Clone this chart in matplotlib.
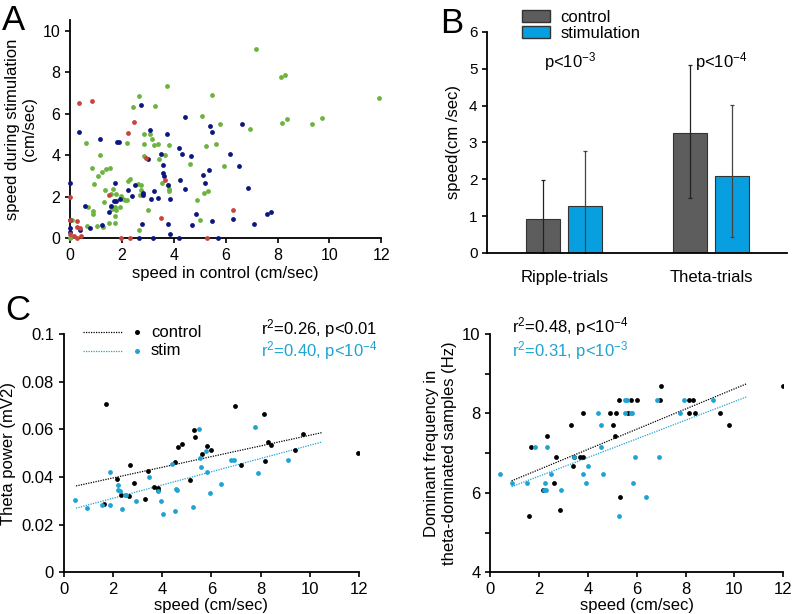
import numpy as np
import matplotlib
matplotlib.use("Agg")
from matplotlib import pyplot as plt
from matplotlib.patches import Patch

plt.rcParams['font.family'] = ['Liberation Sans', 'DejaVu Sans']
plt.rcParams['mathtext.fontset'] = 'custom'
plt.rcParams['mathtext.rm'] = 'Liberation Sans'
plt.rcParams['mathtext.it'] = 'Liberation Sans:italic'
plt.rcParams['axes.linewidth'] = 1.3

# ---- panel A : speed control vs stimulation, three groups of points
a_navy_x = [0.36, 1.15, 1.81, 1.88, 3.08, 3.72, 5.46, 5.38, 4.43, 2.74, 6.64, 3.49, 4.21, 4.30, 4.65,
            3.01, 3.59, 3.60, 3.63, 4.23, 5.35, 5.12, 5.22, 0.0, 1.75, 2.50, 2.82, 2.80, 3.23, 2.24,
            3.76, 4.43, 2.37, 1.70, 1.79, 1.94, 3.11, 3.38, 3.87, 1.49, 1.56, 0.59, 4.84, 0.0, 0.0,
            0.0, 0.37, 0.77, 1.24, 2.78, 3.76, 3.84, 4.70, 5.48, 2.64, 3.18, 4.20, 5.71, 6.18, 6.53,
            6.87, 6.29, 7.58, 7.76, 7.10]
a_navy_y = [5.11, 4.76, 4.65, 4.65, 5.22, 5.00, 5.11, 5.39, 5.82, 6.41, 5.48, 4.07, 4.36, 4.07, 3.96,
            3.83, 3.54, 3.14, 2.98, 2.79, 3.27, 3.03, 2.68, 2.68, 2.68, 2.58, 2.20, 2.10, 2.28, 2.31,
            2.58, 2.37, 2.02, 1.79, 1.79, 1.90, 1.90, 1.95, 1.90, 1.27, 1.55, 1.54, 1.15, 0.87, 0.51,
            0.30, 0.42, 0.51, 0.63, 0.67, 0.67, 0.22, 0.63, 0.82, 0.0, 0.0, 0.0, 0.0, 4.05, 3.49,
            2.44, 0.91, 1.15, 1.26, 0.67]
a_green_x = [7.16, 8.12, 8.29, 11.92, 8.38, 8.16, 9.34, 9.70, 6.94, 2.65, 2.43, 3.28, 3.73, 5.10, 5.48,
             5.79, 2.84, 3.07, 3.17, 3.24, 3.40, 2.84, 2.21, 0.62, 3.81, 1.15, 2.87, 3.42, 3.67, 4.63,
             5.26, 5.61, 5.95, 0.86, 1.24, 1.40, 1.53, 1.08, 0.91, 1.36, 1.56, 1.65, 1.30, 2.24, 2.33,
             2.63, 2.75, 2.73, 2.68, 1.79, 1.98, 2.11, 2.20, 2.05, 1.56, 1.72, 1.62, 1.79, 1.92, 1.75,
             0.69, 0.89, 0.89, 1.51, 1.72, 1.03, 0.67, 1.26, 3.02, 3.55, 3.78, 3.81, 3.81, 4.90, 5.16,
             5.32, 5.02, 2.64, 0.08, 0.0, 0.05]
a_green_y = [9.10, 7.75, 7.88, 6.76, 5.75, 5.54, 5.51, 5.80, 5.24, 6.87, 6.30, 6.36, 7.32, 5.90, 6.90,
             5.50, 5.03, 5.00, 4.76, 4.47, 4.55, 4.55, 4.60, 4.58, 4.50, 4.02, 3.94, 3.80, 3.99, 3.56,
             4.42, 4.55, 3.46, 3.38, 3.19, 3.32, 3.38, 2.98, 2.60, 2.31, 2.15, 2.39, 1.75, 2.76, 2.87,
             2.63, 2.55, 2.31, 2.10, 2.15, 2.02, 1.86, 1.86, 1.88, 1.50, 1.50, 1.43, 1.38, 1.50, 1.06,
             1.50, 1.30, 1.19, 0.74, 0.74, 0.59, 0.59, 0.55, 1.35, 2.66, 2.55, 2.39, 2.28, 1.83, 2.20,
             2.26, 0.90, 0.42, 0.87, 0.0, 0.05]
a_red_x = [0.34, 0.85, 2.48, 2.23, 2.93, 3.66, 1.49, 0.0, 3.50, 0.0, 0.28, 0.28, 0.40, 0.0, 0.15,
           0.26, 0.44, 1.98, 2.33, 5.28, 6.29]
a_red_y = [6.51, 6.62, 5.62, 5.08, 3.85, 2.79, 2.07, 1.99, 0.99, 0.90, 0.82, 0.54, 0.51, 0.22, 0.10,
           0.03, 0.10, 0.0, 0.03, 0.0, 1.38]

# ---- panel B : mean speed +- error
b_groups = ['Ripple-trials', 'Theta-trials']
b_control = [0.92, 3.25]
b_stim = [1.28, 2.10]
b_control_lo = [0.0, 1.50]
b_control_hi = [1.98, 5.10]
b_stim_lo = [0.0, 0.43]
b_stim_hi = [2.77, 4.02]
b_pvals = ['p<10$^{-3}$', 'p<10$^{-4}$']

# ---- panel C left : theta power vs speed
cl_ctrl_x = [1.71, 1.63, 2.17, 2.32, 2.64, 2.68, 2.87, 3.31, 3.43, 3.66, 3.84, 3.84, 4.54, 4.65, 4.81,
             5.29, 5.33, 5.12, 5.64, 5.82, 5.98, 6.98, 7.20, 8.15, 8.19, 8.30, 8.43, 9.38, 9.74, 11.95]
cl_ctrl_y = [0.0705, 0.0288, 0.0393, 0.0325, 0.0318, 0.0452, 0.0376, 0.0309, 0.0426, 0.0358, 0.0355,
             0.0346, 0.0463, 0.0526, 0.0539, 0.0595, 0.0568, 0.0389, 0.0496, 0.0532, 0.0513, 0.0698,
             0.0452, 0.0665, 0.0467, 0.0546, 0.0533, 0.0515, 0.0579, 0.0502]
cl_stim_x = [0.46, 0.94, 1.56, 1.87, 1.87, 2.22, 2.22, 2.28, 2.35, 2.50, 2.55, 2.93, 3.47, 3.82, 3.96,
             4.04, 4.42, 4.56, 4.62, 4.54, 5.26, 5.50, 5.53, 5.57, 5.80, 5.84, 5.93, 6.39, 6.78, 6.92,
             7.77, 7.91, 9.11]
cl_stim_y = [0.0304, 0.0269, 0.0283, 0.0421, 0.0283, 0.0367, 0.0344, 0.0341, 0.0264, 0.0323, 0.0323,
             0.0297, 0.0400, 0.0339, 0.0297, 0.0243, 0.0454, 0.0348, 0.0344, 0.0259, 0.0273, 0.0603,
             0.0480, 0.0440, 0.0508, 0.0419, 0.0332, 0.0369, 0.0473, 0.0473, 0.0609, 0.0418, 0.0470]
cl_ctrl_fit = (0.00224, 0.0351)   # slope, intercept
cl_stim_fit = (0.00278, 0.0255)
cl_fit_range = (0.5, 10.5)

# ---- panel C right : dominant frequency vs speed
cr_ctrl_x = [1.58, 1.68, 2.16, 2.32, 2.67, 2.59, 2.86, 3.29, 3.38, 3.41, 3.66, 3.81, 3.81, 4.91, 5.16,
             5.02, 5.10, 5.28, 5.77, 5.99, 5.32, 5.63, 7.00, 6.97, 8.14, 8.30, 8.14, 8.40, 9.39, 9.76,
             11.98]
cr_ctrl_y = [5.41, 7.16, 6.06, 7.43, 6.90, 6.26, 5.56, 7.70, 6.67, 6.90, 6.90, 6.90, 8.02, 8.02, 8.02,
             7.70, 7.43, 8.34, 8.34, 8.34, 5.89, 8.02, 8.70, 8.34, 8.34, 8.34, 8.02, 8.02, 8.02, 7.70,
             8.70]
cr_stim_x = [0.41, 0.89, 1.51, 1.84, 2.22, 2.21, 2.26, 2.32, 2.50, 2.91, 3.41, 3.79, 3.93, 4.01, 4.42,
             4.54, 4.54, 4.60, 5.50, 5.61, 5.53, 5.77, 5.81, 5.27, 5.84, 5.93, 6.38, 6.82, 6.90, 7.78,
             7.94, 9.14]
cr_stim_y = [6.47, 6.26, 6.26, 7.16, 6.26, 6.06, 6.06, 7.16, 6.47, 6.06, 6.90, 6.47, 6.26, 6.67, 8.02,
             7.70, 7.16, 6.47, 8.34, 8.34, 8.02, 8.02, 8.02, 5.41, 6.26, 6.90, 5.89, 8.34, 6.90, 8.02,
             8.34, 8.34]
cr_ctrl_fit = (0.254, 6.08)
cr_stim_fit = (0.235, 5.95)
cr_fit_range = (0.87, 10.5)

navy = '#0b1780'
green = '#6db33f'
red = '#c8453e'
gray = '#5d5d5d'
blue_bar = '#079fe0'
cblue = '#1ea3d3'

fig = plt.figure(figsize=(7.96, 6.14), dpi=100)

def clean(ax, size=11):
    ax.spines['top'].set_visible(False)
    ax.spines['right'].set_visible(False)
    ax.tick_params(labelsize=size, width=1.2, length=3.5)

# A
axA = fig.add_axes([0.088, 0.612, 0.391, 0.355])
axA.scatter(a_green_x, a_green_y, s=12, color=green, clip_on=False, zorder=3, linewidths=0)
axA.scatter(a_navy_x, a_navy_y, s=12, color=navy, clip_on=False, zorder=3, linewidths=0)
axA.scatter(a_red_x, a_red_y, s=12, color=red, clip_on=False, zorder=3, linewidths=0)
axA.set_xlim(0, 12)
axA.set_ylim(0, 10.5)
axA.set_xticks(range(0, 13, 2))
axA.set_yticks(range(0, 11, 2))
axA.set_xlabel('speed in control (cm/sec)', fontsize=12, labelpad=2)
axA.set_ylabel('speed during stimulation\n(cm/sec)', fontsize=12, labelpad=4)
clean(axA, 11.5)

# B
axB = fig.add_axes([0.612, 0.588, 0.377, 0.36])
pos = np.arange(len(b_groups))
w = 0.23
off = 0.143
b_control = np.array(b_control)
b_stim = np.array(b_stim)
err_c = [b_control - np.array(b_control_lo), np.array(b_control_hi) - b_control]
err_s = [b_stim - np.array(b_stim_lo), np.array(b_stim_hi) - b_stim]
axB.bar(pos - off, b_control, w, color=gray, edgecolor='#333333', linewidth=0.8,
        yerr=err_c, error_kw=dict(ecolor='#222222', elinewidth=0.9, capsize=1.5, capthick=0.9),
        label='control')
axB.bar(pos + off, b_stim, w, color=blue_bar, edgecolor='#333333', linewidth=0.8,
        yerr=err_s, error_kw=dict(ecolor='#444444', elinewidth=0.9, capsize=1.5, capthick=0.9),
        label='stimulation')
axB.set_xlim(-0.524, 1.517)
axB.set_ylim(0, 6)
axB.set_xticks(pos)
axB.set_xticklabels(b_groups)
axB.set_ylabel('speed(cm /sec)', fontsize=12, labelpad=6)
axB.text(pos[0] + 0.04, 5.2, b_pvals[0], fontsize=12, ha='center', va='center')
axB.text(pos[1] + 0.07, 5.2, b_pvals[1], fontsize=12, ha='center', va='center')
clean(axB, 11)
axB.tick_params(axis='x', length=0, pad=12, labelsize=12)
fig.legend(handles=[Patch(facecolor=gray, edgecolor='#333333', label='control'),
                    Patch(facecolor=blue_bar, edgecolor='#333333', label='stimulation')],
           loc='upper left', bbox_to_anchor=(0.643, 1.0), frameon=False, fontsize=12,
           handlelength=1.7, handleheight=0.75, borderpad=0.1, labelspacing=0.05,
           handletextpad=0.6)

# C left
axC = fig.add_axes([0.080, 0.068, 0.371, 0.388])
xs = np.array(cl_fit_range)
axC.plot(xs, cl_ctrl_fit[0] * xs + cl_ctrl_fit[1], ls=(0, (1, 1)), color='black', lw=0.9)
axC.plot(xs, cl_stim_fit[0] * xs + cl_stim_fit[1], ls=(0, (1, 1)), color=cblue, lw=0.9)
axC.scatter(cl_ctrl_x, cl_ctrl_y, s=12, color='black', zorder=3, linewidths=0)
axC.scatter(cl_stim_x, cl_stim_y, s=12, color=cblue, zorder=3, linewidths=0)
axC.set_xlim(0, 12)
axC.set_ylim(0, 0.1)
axC.set_xticks(range(0, 13, 2))
axC.set_yticks([0, 0.02, 0.04, 0.06, 0.08, 0.1])
axC.set_yticklabels(['0', '0.02', '0.04', '0.06', '0.08', '0.1'])
axC.set_xlabel('speed (cm/sec)', fontsize=12, labelpad=1)
axC.set_ylabel('Theta power (mV2)', fontsize=12, labelpad=4)
clean(axC, 12)
# hand-made legend
for yy, col, lab in [(1.008, 'black', 'control'), (0.929, cblue, 'stim')]:
    axC.plot([0.064, 0.2], [yy, yy], ls=(0, (1, 1)), lw=0.9, color=col,
             transform=axC.transAxes, clip_on=False)
    axC.plot([0.247], [yy], 'o', ms=3.6, color=col, mec='none',
             transform=axC.transAxes, clip_on=False)
    axC.text(0.295, yy, lab, fontsize=12, va='center', transform=axC.transAxes)
axC.text(1.062, 1.022, 'r$^2$=0.26, p<0.01', fontsize=12, ha='right', va='center',
         transform=axC.transAxes)
axC.text(1.062, 0.93, 'r$^2$=0.40, p<10$^{-4}$', fontsize=12, ha='right', va='center',
         color=cblue, transform=axC.transAxes)

# C right
axD = fig.add_axes([0.616, 0.068, 0.368, 0.388])
xs = np.array(cr_fit_range)
axD.plot(xs, cr_ctrl_fit[0] * xs + cr_ctrl_fit[1], ls=(0, (1, 1)), color='black', lw=0.9)
axD.plot(xs, cr_stim_fit[0] * xs + cr_stim_fit[1], ls=(0, (1, 1)), color=cblue, lw=0.9)
axD.scatter(cr_ctrl_x, cr_ctrl_y, s=12, color='black', zorder=3, linewidths=0)
axD.scatter(cr_stim_x, cr_stim_y, s=12, color=cblue, zorder=3, linewidths=0)
axD.set_xlim(0, 12)
axD.set_ylim(4, 10)
axD.set_xticks(range(0, 13, 2))
axD.set_yticks([4, 6, 8, 10])
axD.set_yticks([5, 7, 9], minor=True)
axD.set_xlabel('speed (cm/sec)', fontsize=12, labelpad=1)
axD.set_ylabel('Dominant frequency in\ntheta-dominated samples (Hz)', fontsize=12, labelpad=4)
clean(axD, 12)
axD.tick_params(which='minor', length=3.5, width=1.2)
axD.text(0.075, 1.03, 'r$^2$=0.48, p<10$^{-4}$', fontsize=12, ha='left', va='center',
         transform=axD.transAxes)
axD.text(0.075, 0.93, 'r$^2$=0.31, p<10$^{-3}$', fontsize=12, ha='left', va='center',
         color=cblue, transform=axD.transAxes)

# panel letters
fig.text(0.003, 0.967, 'A', fontsize=25, va='center')
fig.text(0.553, 0.962, 'B', fontsize=25, va='center')
fig.text(0.006, 0.495, 'C', fontsize=25, va='center')

fig.savefig('out.png', dpi=100)
